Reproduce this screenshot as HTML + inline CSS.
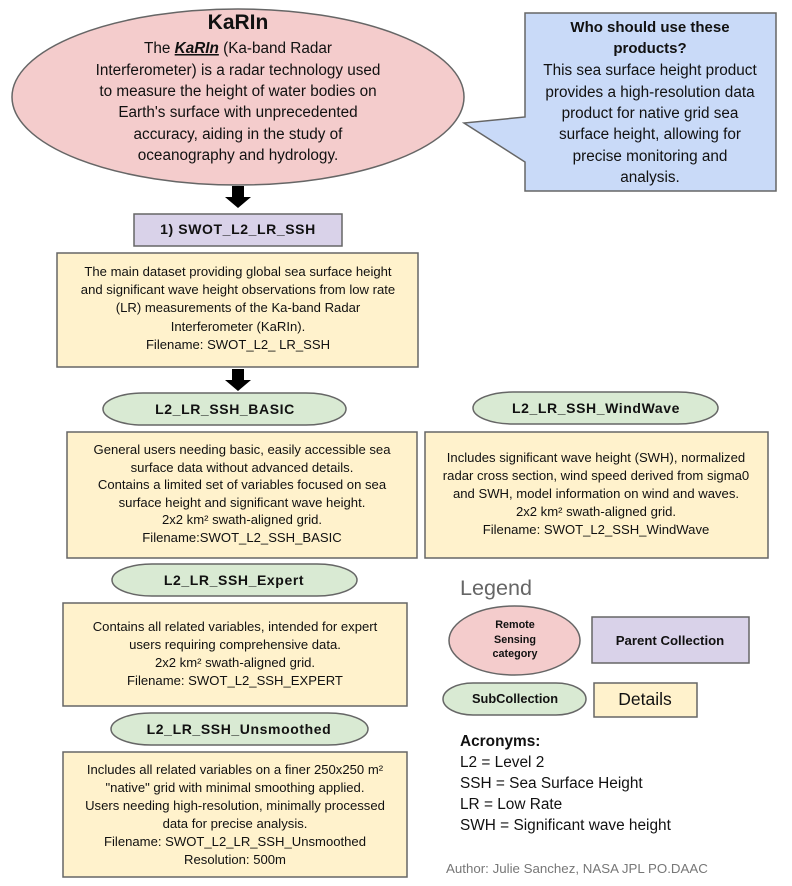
<!DOCTYPE html>
<html><head><meta charset="utf-8"><style>
html,body{margin:0;padding:0;background:#fff;width:792px;height:886px;overflow:hidden}
svg{display:block}
text{font-family:"Liberation Sans",Arial,sans-serif;fill:#111}
.d{font-size:13.1px;text-anchor:middle}
.b{font-weight:bold;text-anchor:middle}
</style></head><body>
<svg width="792" height="886" viewBox="0 0 792 886" xmlns="http://www.w3.org/2000/svg">
<ellipse cx="238" cy="97" rx="226" ry="88" fill="#f4cccc" stroke="#666" stroke-width="1.5"/>
<text x="238" y="29" class="b" font-size="21">KaRIn</text>
<g font-size="15.3" text-anchor="middle">
<text x="238" y="53"><tspan>The </tspan><tspan font-weight="bold" font-style="italic" text-decoration="underline">KaRIn</tspan><tspan> (Ka-band Radar</tspan></text>
<text x="238" y="75">Interferometer) is a radar technology used</text>
<text x="238" y="96">to measure the height of water bodies on</text>
<text x="238" y="117">Earth's surface with unprecedented</text>
<text x="238" y="139">accuracy, aiding in the study of</text>
<text x="238" y="160">oceanography and hydrology.</text>
</g>
<polygon points="525,13 776,13 776,191 525,191 525,162 464,123 525,117" fill="#c9daf8" stroke="#666" stroke-width="1.5"/>
<text x="650" y="32" class="b" font-size="15">Who should use these</text>
<text x="650" y="53" class="b" font-size="15">products?</text>
<g font-size="15.3" text-anchor="middle">
<text x="650" y="75">This sea surface height product</text>
<text x="650" y="97">provides a high-resolution data</text>
<text x="650" y="118">product for native grid sea</text>
<text x="650" y="139">surface height, allowing for</text>
<text x="650" y="161">precise monitoring and</text>
<text x="650" y="182">analysis.</text>
</g>
<polygon points="232,186 244,186 244,197 251,197 238,208 225,197 232,197" fill="#000"/>
<rect x="134" y="214" width="208" height="32" fill="#d9d2e9" stroke="#666" stroke-width="1.5"/>
<text x="238" y="234" class="b" font-size="14" letter-spacing="0.6">1) SWOT_L2_LR_SSH</text>
<rect x="57" y="253" width="361" height="114" fill="#fff2cc" stroke="#666" stroke-width="1.5"/>
<text x="238" y="276" class="d">The main dataset providing global sea surface height</text>
<text x="238" y="294" class="d">and significant wave height observations from low rate</text>
<text x="238" y="312" class="d">(LR) measurements of the Ka-band Radar</text>
<text x="238" y="331" class="d">Interferometer (KaRIn).</text>
<text x="238" y="349" class="d">Filename: SWOT_L2_ LR_SSH</text>
<polygon points="232,369 244,369 244,380 251,380 238,391 225,380 232,380" fill="#000"/>
<rect x="103" y="393" width="243" height="32" rx="40" ry="16" fill="#d9ead3" stroke="#666" stroke-width="1.5"/>
<text x="225" y="414" class="b" font-size="14" letter-spacing="0.6">L2_LR_SSH_BASIC</text>
<rect x="67" y="432" width="350" height="126" fill="#fff2cc" stroke="#666" stroke-width="1.5"/>
<text x="242" y="454" class="d">General users needing basic, easily accessible sea</text>
<text x="242" y="472" class="d">surface data without advanced details.</text>
<text x="242" y="489" class="d">Contains a limited set of variables focused on sea</text>
<text x="242" y="507" class="d">surface height and significant wave height.</text>
<text x="242" y="524" class="d">2x2 km² swath-aligned grid.</text>
<text x="242" y="542" class="d">Filename:SWOT_L2_SSH_BASIC</text>
<rect x="473" y="392" width="245" height="32" rx="40" ry="16" fill="#d9ead3" stroke="#666" stroke-width="1.5"/>
<text x="596" y="413" class="b" font-size="14" letter-spacing="0.6">L2_LR_SSH_WindWave</text>
<rect x="425" y="432" width="343" height="126" fill="#fff2cc" stroke="#666" stroke-width="1.5"/>
<text x="596" y="462" class="d">Includes significant wave height (SWH), normalized</text>
<text x="596" y="480" class="d">radar cross section, wind speed derived from sigma0</text>
<text x="596" y="498" class="d">and SWH, model information on wind and waves.</text>
<text x="596" y="516" class="d">2x2 km² swath-aligned grid.</text>
<text x="596" y="534" class="d">Filename: SWOT_L2_SSH_WindWave</text>
<rect x="112" y="564" width="245" height="32" rx="40" ry="16" fill="#d9ead3" stroke="#666" stroke-width="1.5"/>
<text x="234" y="585" class="b" font-size="14" letter-spacing="0.6">L2_LR_SSH_Expert</text>
<rect x="63" y="603" width="344" height="103" fill="#fff2cc" stroke="#666" stroke-width="1.5"/>
<text x="235" y="631" class="d">Contains all related variables, intended for expert</text>
<text x="235" y="649" class="d">users requiring comprehensive data.</text>
<text x="235" y="667" class="d">2x2 km² swath-aligned grid.</text>
<text x="235" y="685" class="d">Filename: SWOT_L2_SSH_EXPERT</text>
<rect x="111" y="713" width="257" height="32" rx="40" ry="16" fill="#d9ead3" stroke="#666" stroke-width="1.5"/>
<text x="239" y="734" class="b" font-size="14" letter-spacing="0.6">L2_LR_SSH_Unsmoothed</text>
<rect x="63" y="752" width="344" height="125" fill="#fff2cc" stroke="#666" stroke-width="1.5"/>
<text x="235" y="774" class="d">Includes all related variables on a finer 250x250 m²</text>
<text x="235" y="792" class="d">"native" grid with minimal smoothing applied.</text>
<text x="235" y="810" class="d">Users needing high-resolution, minimally processed</text>
<text x="235" y="828" class="d">data for precise analysis.</text>
<text x="235" y="846" class="d">Filename: SWOT_L2_LR_SSH_Unsmoothed</text>
<text x="235" y="864" class="d">Resolution: 500m</text>
<text x="460" y="595" font-size="21.6" style="fill:#666">Legend</text>
<ellipse cx="514.5" cy="640.5" rx="65.5" ry="34.5" fill="#f4cccc" stroke="#666" stroke-width="1.5"/>
<text x="515" y="628" class="b" font-size="10.8">Remote</text>
<text x="515" y="643" class="b" font-size="10.8">Sensing</text>
<text x="515" y="657" class="b" font-size="10.8">category</text>
<rect x="592" y="617" width="157" height="46" fill="#d9d2e9" stroke="#666" stroke-width="1.5"/>
<text x="670" y="645" class="b" font-size="13.2">Parent Collection</text>
<rect x="443" y="683" width="143" height="32" rx="30" ry="16" fill="#d9ead3" stroke="#666" stroke-width="1.5"/>
<text x="515" y="703" class="b" font-size="12.8">SubCollection</text>
<rect x="594" y="683" width="103" height="34" fill="#fff2cc" stroke="#666" stroke-width="1.5"/>
<text x="645" y="705" font-size="17.5" text-anchor="middle">Details</text>
<text x="460" y="746" font-size="15.4" font-weight="bold">Acronyms:</text>
<g font-size="15.4">
<text x="460" y="767">L2 = Level 2</text>
<text x="460" y="788">SSH = Sea Surface Height</text>
<text x="460" y="809">LR = Low Rate</text>
<text x="460" y="830">SWH = Significant wave height</text>
</g>
<text x="446" y="873" font-size="13.3" style="fill:#777">Author: Julie Sanchez, NASA JPL PO.DAAC</text>
</svg>
</body></html>
